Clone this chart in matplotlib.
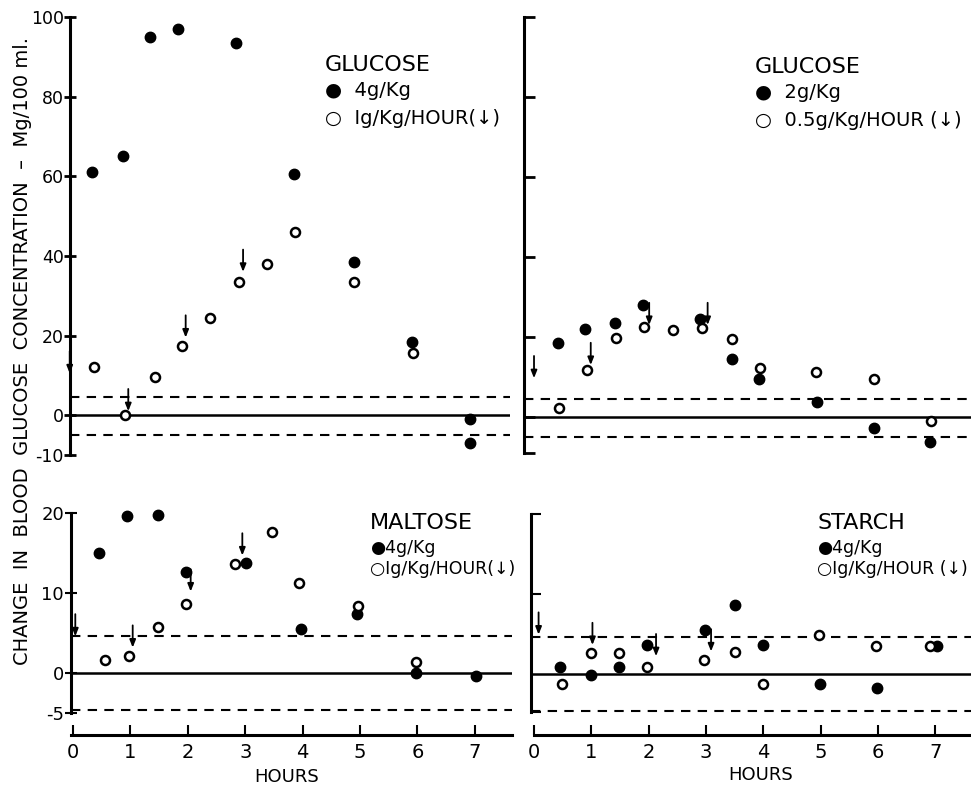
import matplotlib.pyplot as plt

# data (hours, change in mg/100 ml)
glu4_h = [0.42, 0.96, 1.43, 1.92, 2.93, 3.94, 4.98, 6.0, 7.0, 7.0]
glu4_v = [61, 65, 95, 97, 93.5, 60.5, 38.5, 18.5, -1, -7]
glu1_h = [0.45, 1.0, 1.52, 1.99, 2.47, 2.98, 3.47, 3.95, 4.98, 6.01]
glu1_v = [12, 0, 9.5, 17.5, 24.5, 33.5, 38, 46, 33.5, 15.5]
glu1_arr_h = [0.03, 1.05, 2.05, 3.05]
glu1_arr_v = [10.5, 1, 19.5, 36]

glu2_h = [0.49, 0.96, 1.48, 1.98, 2.97, 3.53, 4.0, 5.01, 6.0, 6.98]
glu2_v = [18.5, 22, 23.5, 28, 24.5, 14.5, 9.5, 3.8, -2.7, -6.2]
glu05_h = [0.51, 0.99, 1.5, 1.99, 2.49, 3.0, 3.52, 4.01, 4.99, 6.0, 6.99]
glu05_v = [2.3, 11.7, 19.7, 22.6, 21.7, 22.2, 19.4, 12.3, 11.2, 9.5, -1.0]
glu05_arr_h = [0.07, 1.06, 2.08, 3.1]
glu05_arr_v = [9.7, 13, 23, 23]

mal4_h = [0.45, 0.94, 1.48, 1.96, 3.01, 3.97, 4.94, 5.98, 7.02]
mal4_v = [15, 19.6, 19.7, 12.6, 13.7, 5.5, 7.4, 0, -0.3]
mal1_h = [0.55, 0.97, 1.48, 1.96, 2.83, 3.47, 3.94, 4.97, 5.97]
mal1_v = [1.6, 2.2, 5.8, 8.7, 13.6, 17.6, 11.3, 8.4, 1.4]
mal1_arr_h = [0.04, 1.04, 2.05, 2.95]
mal1_arr_v = [4.6, 3.2, 10.2, 14.7]

st4_h = [0.45, 1.0, 1.49, 1.98, 2.98, 3.5, 4.0, 4.99, 5.98, 7.04]
st4_v = [0.9, -0.1, 0.85, 3.6, 5.5, 8.6, 3.6, -1.3, -1.8, 3.5]
st1_h = [0.48, 0.99, 1.49, 1.98, 2.97, 3.5, 4.0, 4.98, 5.97, 6.91]
st1_v = [-1.3, 2.6, 2.6, 0.9, 1.7, 2.7, -1.3, 4.9, 3.5, 3.5]
st1_arr_h = [0.08, 1.02, 2.13, 3.09]
st1_arr_v = [4.9, 3.6, 2.2, 2.8]

hours = [0, 1, 2, 3, 4, 5, 6, 7]
top_ticks = [100, 80, 60, 40, 20, 0, -10]
top_labels = ["100", "80", "60", "40", "20", "0", "-10"]
bot_ticks = [20, 10, 0, -5]
bot_labels = ["20", "10", "0", "-5"]

# normal range limits (dashed)
top_band = [4.6, -5.0]
bot_band = [4.6, -4.6]

W, H = 971, 787
fig = plt.figure(figsize=(W / 100, H / 100), dpi=100)
plt.rcParams['font.family'] = 'DejaVu Sans'


def box(l, r, t, b):
    # pixel box -> figure fraction
    return [l / W, 1 - b / H, (r - l) / W, (b - t) / H]


def panel(rect, xlim, ylim):
    ax = fig.add_axes(rect)
    ax.set_xlim(*xlim)
    ax.set_ylim(*ylim)
    ax.patch.set_alpha(0)
    for s in ['top', 'right', 'bottom']:
        ax.spines[s].set_visible(False)
    ax.spines['left'].set_linewidth(2.2)
    return ax


def draw(ax, fh, fv, oh, ov, ah, av, band):
    ax.axhline(0, color='black', lw=1.8)
    for y in band:
        ax.axhline(y, color='black', lw=1.5, ls=(0, (4.5, 3.5)))
    ax.plot(fh, fv, 'o', color='black', ms=7.5, ls='none', clip_on=False)
    ax.plot(oh, ov, 'o', mfc='white', mec='black', mew=1.8, ms=6.5,
            ls='none', clip_on=False)
    for x, y in zip(ah, av):
        ax.annotate('', xy=(x, y), xytext=(0, 16), textcoords='offset points',
                    xycoords='data',
                    arrowprops=dict(arrowstyle='-|>,head_length=0.45,head_width=0.18',
                                    color='black', lw=1.3, shrinkA=0, shrinkB=0))


# top-left: glucose 4 g/kg
ax1 = panel(box(70, 510, 17, 455), ((70 - 68) / 57.4, (510 - 68) / 57.4), (-10, 100))
draw(ax1, glu4_h, glu4_v, glu1_h, glu1_v, glu1_arr_h, glu1_arr_v, top_band)
ax1.set_xticks([])
ax1.set_yticks(top_ticks, top_labels, fontsize=12.5)
ax1.tick_params(axis='y', direction='inout', length=8, width=2, pad=0.5)

# top-right: glucose 2 g/kg
ax2 = panel(box(524, 971, 17, 453), ((524 - 530) / 57.3, (971 - 530) / 57.3), (-9, 100))
draw(ax2, glu2_h, glu2_v, glu05_h, glu05_v, glu05_arr_h, glu05_arr_v, top_band)
ax2.set_xticks([])
ax2.set_yticks(top_ticks[:-1] + [-9], [])
ax2.tick_params(axis='y', direction='in', length=8, width=2)

# bottom-left: maltose
ax3 = panel(box(71, 512, 505, 745), ((71 - 73) / 57.4, (512 - 73) / 57.4), (-8.96, 21.0))
draw(ax3, mal4_h, mal4_v, mal1_h, mal1_v, mal1_arr_h, mal1_arr_v, bot_band)
ax3.spines['left'].set_bounds(-5, 20)
ax3.spines['bottom'].set_visible(True)
ax3.spines['bottom'].set_position(('data', -7.7))
ax3.spines['bottom'].set_linewidth(2.2)
ax3.set_yticks(bot_ticks, bot_labels, fontsize=13)
ax3.tick_params(axis='y', direction='inout', length=8, width=1.5, pad=1)
ax3.set_xticks(hours, [str(h) for h in hours], fontsize=14)
ax3.tick_params(axis='x', direction='in', length=7, width=1.5, pad=6)

# bottom-right: starch
ax4 = panel(box(531, 971, 505, 745), ((531 - 534) / 57.3, (971 - 534) / 57.3), (-8.9, 21.1))
draw(ax4, st4_h, st4_v, st1_h, st1_v, st1_arr_h, st1_arr_v, bot_band)
ax4.spines['left'].set_bounds(-4.8, 20)
ax4.spines['bottom'].set_visible(True)
ax4.spines['bottom'].set_position(('data', -7.6))
ax4.spines['bottom'].set_bounds(0, 7.63)
ax4.spines['bottom'].set_linewidth(2.2)
ax4.set_yticks([20, 10, -4.8], [])
ax4.tick_params(axis='y', direction='in', length=7, width=1.5)
ax4.set_xticks(hours, [str(h) for h in hours], fontsize=14)
ax4.tick_params(axis='x', direction='in', length=7, width=1.5, pad=6)


# legends
def legend(x, y, title, l1, l2, fs=14, step=(25, 28)):
    fig.text(x / W, 1 - y / H, title, fontsize=16, va='center', ha='left')
    fig.text(x / W, 1 - (y + step[0]) / H, l1, fontsize=fs, va='center', ha='left')
    fig.text(x / W, 1 - (y + step[0] + step[1]) / H, l2, fontsize=fs, va='center', ha='left')


legend(325, 65, "GLUCOSE", "●  4g/Kg", "○  Ig/Kg/HOUR(↓)")
legend(755, 67, "GLUCOSE", "●  2g/Kg", "○  0.5g/Kg/HOUR (↓)")
legend(370, 523, "MALTOSE", "●4g/Kg", "○Ig/Kg/HOUR(↓)", fs=12.5, step=(25, 21))
legend(817, 523, "STARCH", "●4g/Kg", "○Ig/Kg/HOUR (↓)", fs=12.5, step=(25, 21))

fig.text(287 / W, 1 - 777 / H, "HOURS", fontsize=13, ha='center', va='center')
fig.text(761 / W, 1 - 775 / H, "HOURS", fontsize=13, ha='center', va='center')

fig.text(23 / W, 1 - 351 / H,
         "CHANGE  IN  BLOOD  GLUCOSE  CONCENTRATION  –  Mg/100 ml.",
         rotation=90, fontsize=14, ha='center', va='center')

fig.savefig("out.png", dpi=100)
